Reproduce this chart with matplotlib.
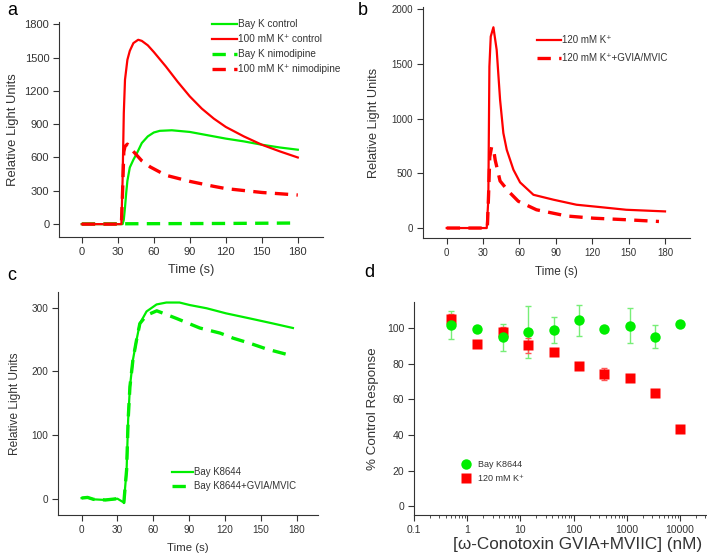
"""
four-panel luminescence figure: time courses (a-c) and conotoxin dose response (d)
"""
import matplotlib.pyplot as plt
from matplotlib.ticker import FixedLocator, NullFormatter, LogLocator

plt.rcParams['font.family'] = ['Liberation Sans', 'DejaVu Sans']
plt.rcParams['text.color'] = '#333333'
plt.rcParams['axes.labelcolor'] = '#333333'
plt.rcParams['xtick.color'] = '#333333'
plt.rcParams['ytick.color'] = '#333333'
plt.rcParams['axes.edgecolor'] = '#333333'

RED = '#ff0000'
GREEN = '#00ee00'

# panel a: 100 mM K+ / Bay K, control vs nimodipine
a_k_t = [0, 33, 34, 35, 36, 38, 40, 43, 47, 50, 55, 60, 70, 80, 90, 100, 110, 120, 135, 150, 165, 180]
a_k = [0, 0, 400, 1000, 1300, 1480, 1560, 1630, 1660, 1650, 1610, 1550, 1420, 1280, 1150, 1040, 950, 875, 790, 715, 655, 600]
a_bay_t = [0, 34, 35, 36, 37, 38, 40, 43, 46, 50, 55, 60, 65, 75, 90, 105, 120, 135, 150, 165, 180]
a_bay = [0, 0, 40, 150, 280, 390, 510, 580, 640, 730, 790, 825, 840, 845, 830, 800, 770, 745, 715, 690, 670]
a_bay_nim_t = [0, 30, 60, 90, 120, 150, 180]
a_bay_nim = [2, 3, 4, 5, 6, 8, 10]
a_k_nim_t = [0, 33, 34, 35, 36, 38, 40, 45, 50, 57, 70, 90, 110, 120, 150, 180]
a_k_nim = [0, 0, 300, 650, 700, 720, 690, 630, 570, 515, 440, 385, 340, 320, 285, 262]

# panel b: 120 mM K+ with / without GVIA/MVIIC
b_k_t = [0, 33, 34.3, 35.2, 36.3, 38.5, 41.2, 44, 46.7, 49.5, 55, 60.5, 71.5, 88, 107, 126, 148, 180]
b_k = [0, 0, 260, 1476, 1750, 1835, 1628, 1172, 868, 715, 533, 417, 304, 259, 213, 192, 167, 152]
b_kc_t = [0, 33.5, 34.5, 35.5, 37, 38.5, 40, 44, 51, 59, 74, 99, 121, 148, 175]
b_kc = [0, 0, 300, 650, 740, 730, 620, 430, 335, 245, 167, 110, 90, 76, 60]

# panel c: Bay K8644 with / without GVIA/MVIIC
c_bay_t = [0, 5, 10, 20, 30, 35.4, 37.7, 39, 40.5, 43, 46, 48.8, 54.4, 62.8, 71, 82, 90.7, 104.7, 121, 141, 160.5, 177]
c_bay = [1, 2, -1, -2, 0, -6, 45, 124, 176, 218, 249, 275, 294, 305, 308, 308, 304, 299, 291, 283, 275, 268]
c_bayc_t = [0, 5, 10, 20, 30, 35.4, 37.7, 39, 40.5, 43, 46, 48.8, 54.4, 63, 79.5, 99, 116, 127, 141, 155, 169, 177]
c_bayc = [1, 2, -1, -2, 0, -6, 45, 124, 176, 218, 249, 275, 288, 295, 283, 268, 260, 252, 244, 235, 228, 224]

# panel d: dose response
d_conc = [0.5, 1.55, 4.8, 14, 42, 128, 377, 1120, 3400, 10000]
d_bay = [101.9, 99.4, 94.9, 98, 99, 104.5, 99.6, 101.5, 95.3, 102.4]
d_bay_err = [8, 0, 7.7, 14.7, 7.5, 8.7, 0, 9.9, 6.5, 0]
d_k = [105, 91.2, 98, 90.4, 86.7, 78.8, 74.3, 72.2, 63.6, 43.3]
d_k_err = [3, 0, 3, 4.3, 1.5, 0, 3.6, 0, 0, 0]

W, H = 707, 554
fig = plt.figure(figsize=(W / 100, H / 100), dpi=100)


def box(left, top, right, bottom):
    return fig.add_axes([left / W, 1 - bottom / H, (right - left) / W, (bottom - top) / H])


def style(ax, size):
    for s in ('top', 'right'):
        ax.spines[s].set_visible(False)
    ax.tick_params(direction='out', length=4, width=0.8, labelsize=size, pad=3)


def leg(ax, x, y, size, spacing, hl):
    ax.legend(loc='upper left', bbox_to_anchor=(x / W, 1 - y / H), bbox_transform=fig.transFigure,
              frameon=False, fontsize=size, borderpad=0, borderaxespad=0, handlelength=hl,
              handletextpad=0.1, labelspacing=spacing)


dash = (0, (4, 2.5))

# a
ax = box(59, 22, 323, 237)
style(ax, 8)
ax.plot(a_bay_t, a_bay, color=GREEN, lw=1.6, label='Bay K control')
ax.plot(a_k_t, a_k, color=RED, lw=1.6, label='100 mM K⁺ control')
ax.plot(a_bay_nim_t, a_bay_nim, color=GREEN, lw=2.4, ls=dash, label='Bay K nimodipine')
ax.plot(a_k_nim_t, a_k_nim, color=RED, lw=2.4, ls=dash, label='100 mM K⁺ nimodipine')
ax.set_xlim(-19, 201)
ax.set_ylim(-116, 1820)
ax.set_xticks(range(0, 181, 30))
ax.set_yticks(range(0, 1801, 300))
ax.set_xlabel('Time (s)', fontsize=9.2, labelpad=5)
ax.set_ylabel('Relative Light Units', fontsize=9.4, labelpad=4)
leg(ax, 212, 19, 7.2, 0.5, 2.5)

# b
ax = box(422.7, 7, 690, 238)
style(ax, 7)
ax.plot(b_k_t, b_k, color=RED, lw=1.6, label='120 mM K⁺')
ax.plot(b_kc_t, b_kc, color=RED, lw=2.4, ls=dash, label='120 mM K⁺+GVIA/MVIC')
ax.set_xlim(-19.8, 200.6)
ax.set_ylim(-91, 2020)
ax.set_xticks(range(0, 181, 30))
ax.set_yticks(range(0, 2001, 500))
ax.set_xlabel('Time (s)', fontsize=8.5, labelpad=6)
ax.set_ylabel('Relative Light Units', fontsize=9.2, labelpad=8)
leg(ax, 536.7, 35, 7, 0.85, 2.5)

# c
ax = box(58.3, 291.7, 318, 515)
style(ax, 7.2)
ax.plot(c_bay_t, c_bay, color=GREEN, lw=1.6, label='Bay K8644')
ax.plot(c_bayc_t, c_bayc, color=GREEN, lw=2.4, ls=dash, label='Bay K8644+GVIA/MVIC')
ax.set_xlim(-19.5, 198)
ax.set_ylim(-25.6, 325)
ax.set_xticks(range(0, 181, 30))
ax.set_yticks(range(0, 301, 100))
ax.set_xlabel('Time (s)', fontsize=8.2, labelpad=6)
ax.set_ylabel('Relative Light Units', fontsize=8.6, labelpad=8)
leg(ax, 172, 467, 6.9, 0.45, 2.2)

# d
ax = box(414, 301.7, 706.7, 515)
style(ax, 7.5)
ax.set_xscale('log')
ax.errorbar(d_conc, d_bay, yerr=d_bay_err, fmt='none', ecolor='#77ee77', elinewidth=1, capsize=2.5, capthick=1)
ax.errorbar(d_conc, d_k, yerr=d_k_err, fmt='none', ecolor='#ff5555', elinewidth=1, capsize=2.5, capthick=1)
ax.plot(d_conc, d_k, 's', color=RED, ms=6.5, mec='none', label='120 mM K⁺', zorder=3)
ax.plot(d_conc, d_bay, 'o', color=GREEN, ms=7.5, mec='none', label='Bay K8644', zorder=4)
ax.set_xlim(0.1, 31600)
ax.set_ylim(-5, 115)
ax.xaxis.set_major_locator(FixedLocator([0.1, 1, 10, 100, 1000, 10000]))
ax.set_xticklabels(['0.1', '1', '10', '100', '1000', '10000'])
ax.xaxis.set_minor_locator(LogLocator(base=10, subs=range(2, 10), numticks=20))
ax.xaxis.set_minor_formatter(NullFormatter())
ax.tick_params(which='minor', direction='out', length=2, width=0.6)
ax.set_yticks(range(0, 101, 20))
ax.set_xlabel('[ω-Conotoxin GVIA+MVIIC] (nM)', fontsize=12.3)
ax.xaxis.set_label_coords((578 - 414) / (706.7 - 414), -(545 - 515) / (515 - 301.7))
ax.xaxis.label.set_va('center')
ax.set_ylabel('% Control Response', fontsize=9.6, labelpad=6)
h, l = ax.get_legend_handles_labels()
ax.legend(h[::-1], l[::-1], loc='upper left', bbox_to_anchor=(461 / W, 1 - 460 / H),
          bbox_transform=fig.transFigure, frameon=False, fontsize=6.5, borderpad=0,
          borderaxespad=0, handlelength=1, handletextpad=0.9, labelspacing=0.6)

for s, x, y in [('a', 7, 2), ('b', 358, 2), ('c', 7, 267), ('d', 364, 264)]:
    fig.text(x / W, 1 - y / H, s, fontsize=13, va='top', ha='left', color='black')

fig.savefig('out.png', dpi=100)
